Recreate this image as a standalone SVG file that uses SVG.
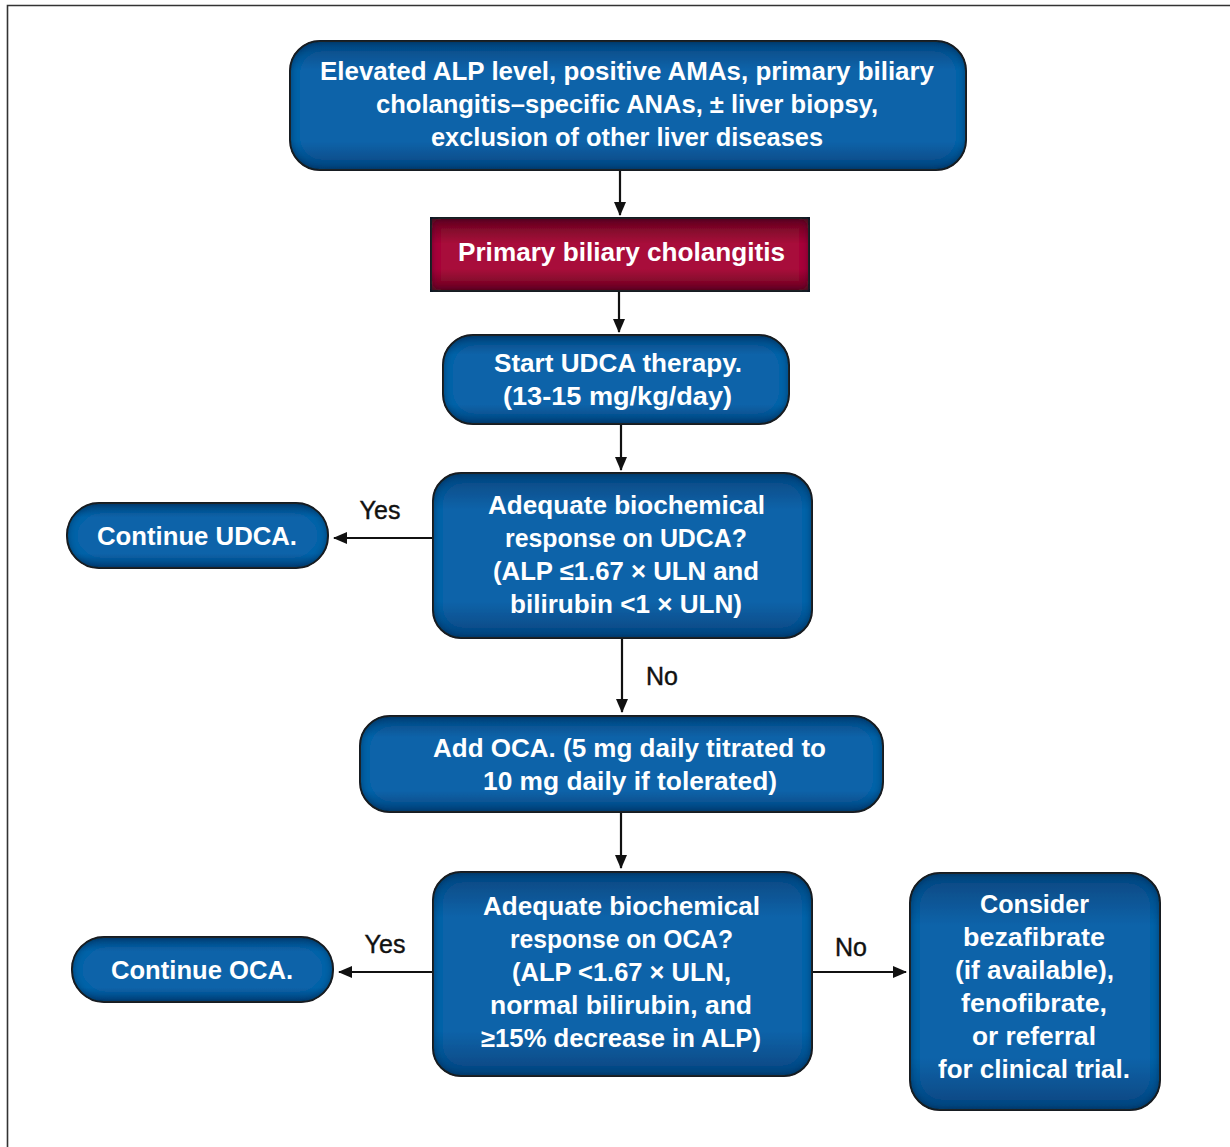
<svg xmlns="http://www.w3.org/2000/svg" width="1230" height="1147" viewBox="0 0 1230 1147">
<defs>
<style>
.node{fill:url(#blue);stroke:#262626;stroke-width:2;filter:url(#inner)}
.red{fill:url(#crimson);stroke:#262626;stroke-width:2;filter:url(#inner)}
.t{font-family:"Liberation Sans",Arial,sans-serif;font-weight:bold;font-size:25px;fill:#ffffff;text-anchor:middle}
.lab{font-family:"Liberation Sans",Arial,sans-serif;font-size:25px;fill:#111;text-anchor:middle;stroke:#111;stroke-width:0.4}
.con{stroke:#111;stroke-width:2.2;fill:none;marker-end:url(#arr)}
</style>
<linearGradient id="blue" x1="0" y1="0" x2="0" y2="1">
<stop offset="0" stop-color="#08467f"/>
<stop offset="0.22" stop-color="#0c63a9"/>
<stop offset="0.78" stop-color="#0c63a9"/>
<stop offset="1" stop-color="#07457f"/>
</linearGradient>
<linearGradient id="crimson" x1="0" y1="0" x2="0" y2="1">
<stop offset="0" stop-color="#640020"/>
<stop offset="0.35" stop-color="#a8103a"/>
<stop offset="0.7" stop-color="#a8103a"/>
<stop offset="1" stop-color="#680322"/>
</linearGradient>
<filter id="inner" x="-5%" y="-5%" width="110%" height="110%">
<feGaussianBlur in="SourceAlpha" stdDeviation="5" result="b"/>
<feComposite in="SourceAlpha" in2="b" operator="arithmetic" k2="1" k3="-1" result="edge"/>
<feFlood flood-color="#001326" flood-opacity="1"/>
<feComposite in2="edge" operator="in" result="shadow"/>
<feMerge><feMergeNode in="SourceGraphic"/><feMergeNode in="shadow"/></feMerge>
</filter>
<marker id="arr" viewBox="0 0 14 12" refX="13" refY="6" markerWidth="14" markerHeight="12" markerUnits="userSpaceOnUse" orient="auto">
<path d="M0,0 L14,6 L0,12 Z" fill="#111"/>
</marker>
</defs>
<rect width="1230" height="1147" fill="#fff"/>
<path d="M7.5,1147 V5.5 H1230" fill="none" stroke="#333" stroke-width="1.6"/>

<g id="connectors">
<line class="con" x1="620" y1="170" x2="620" y2="215"/>
<line class="con" x1="619" y1="291" x2="619" y2="332"/>
<line class="con" x1="621" y1="424" x2="621" y2="470"/>
<line class="con" x1="433" y1="538" x2="334" y2="538"/>
<text class="lab" x="380" y="519">Yes</text>
<line class="con" x1="622" y1="638" x2="622" y2="712"/>
<text class="lab" x="662" y="685">No</text>
<line class="con" x1="621" y1="812" x2="621" y2="868"/>
<line class="con" x1="433" y1="972" x2="339" y2="972"/>
<text class="lab" x="385" y="953">Yes</text>
<line class="con" x1="812" y1="972" x2="906" y2="972"/>
<text class="lab" x="851" y="956">No</text>
</g>

<g id="n1">
<rect class="node" x="290" y="41" width="676" height="129" rx="30"/>
<text class="t" x="627" y="80" textLength="614" lengthAdjust="spacingAndGlyphs">Elevated ALP level, positive AMAs, primary biliary</text>
<text class="t" x="627" y="113" textLength="502" lengthAdjust="spacingAndGlyphs">cholangitis–specific ANAs, ± liver biopsy,</text>
<text class="t" x="627" y="146" textLength="392" lengthAdjust="spacingAndGlyphs">exclusion of other liver diseases</text>
</g>

<g id="n2">
<rect class="red" x="431" y="218" width="378" height="73"/>
<text class="t" x="621.5" y="261" textLength="327" lengthAdjust="spacingAndGlyphs">Primary biliary cholangitis</text>
</g>

<g id="n3">
<rect class="node" x="443" y="335" width="346" height="89" rx="30"/>
<text class="t" x="618" y="372" textLength="248" lengthAdjust="spacingAndGlyphs">Start UDCA therapy.</text>
<text class="t" x="617.5" y="405" textLength="229" lengthAdjust="spacingAndGlyphs">(13-15 mg/kg/day)</text>
</g>

<g id="n4">
<rect class="node" x="433" y="473" width="379" height="165" rx="28"/>
<text class="t" x="626.5" y="514" textLength="277" lengthAdjust="spacingAndGlyphs">Adequate biochemical</text>
<text class="t" x="626" y="547" textLength="242" lengthAdjust="spacingAndGlyphs">response on UDCA?</text>
<text class="t" x="626" y="580" textLength="266" lengthAdjust="spacingAndGlyphs">(ALP ≤1.67 × ULN and</text>
<text class="t" x="626" y="613" textLength="232" lengthAdjust="spacingAndGlyphs">bilirubin &lt;1 × ULN)</text>
</g>

<g id="n5">
<rect class="node" x="67" y="503" width="261" height="65" rx="32"/>
<text class="t" x="197" y="545" textLength="200" lengthAdjust="spacingAndGlyphs">Continue UDCA.</text>
</g>

<g id="n6">
<rect class="node" x="360" y="716" width="523" height="96" rx="30"/>
<text class="t" x="629.5" y="757" textLength="393" lengthAdjust="spacingAndGlyphs">Add OCA. (5 mg daily titrated to</text>
<text class="t" x="630" y="790" textLength="294" lengthAdjust="spacingAndGlyphs">10 mg daily if tolerated)</text>
</g>

<g id="n7">
<rect class="node" x="433" y="872" width="379" height="204" rx="28"/>
<text class="t" x="621.5" y="915" textLength="277" lengthAdjust="spacingAndGlyphs">Adequate biochemical</text>
<text class="t" x="621.5" y="948" textLength="223" lengthAdjust="spacingAndGlyphs">response on OCA?</text>
<text class="t" x="621.5" y="981" textLength="219" lengthAdjust="spacingAndGlyphs">(ALP &lt;1.67 × ULN,</text>
<text class="t" x="621" y="1014" textLength="262" lengthAdjust="spacingAndGlyphs">normal bilirubin, and</text>
<text class="t" x="621" y="1047" textLength="280" lengthAdjust="spacingAndGlyphs">≥15% decrease in ALP)</text>
</g>

<g id="n8">
<rect class="node" x="72" y="937" width="261" height="65" rx="32"/>
<text class="t" x="202" y="979" textLength="182" lengthAdjust="spacingAndGlyphs">Continue OCA.</text>
</g>

<g id="n9">
<rect class="node" x="910" y="873" width="250" height="237" rx="30"/>
<text class="t" x="1034.5" y="913" textLength="109" lengthAdjust="spacingAndGlyphs">Consider</text>
<text class="t" x="1034" y="946" textLength="142" lengthAdjust="spacingAndGlyphs">bezafibrate</text>
<text class="t" x="1034.5" y="979" textLength="159" lengthAdjust="spacingAndGlyphs">(if available),</text>
<text class="t" x="1034" y="1012" textLength="146" lengthAdjust="spacingAndGlyphs">fenofibrate,</text>
<text class="t" x="1034" y="1045" textLength="124" lengthAdjust="spacingAndGlyphs">or referral</text>
<text class="t" x="1034" y="1078" textLength="192" lengthAdjust="spacingAndGlyphs">for clinical trial.</text>
</g>
</svg>
